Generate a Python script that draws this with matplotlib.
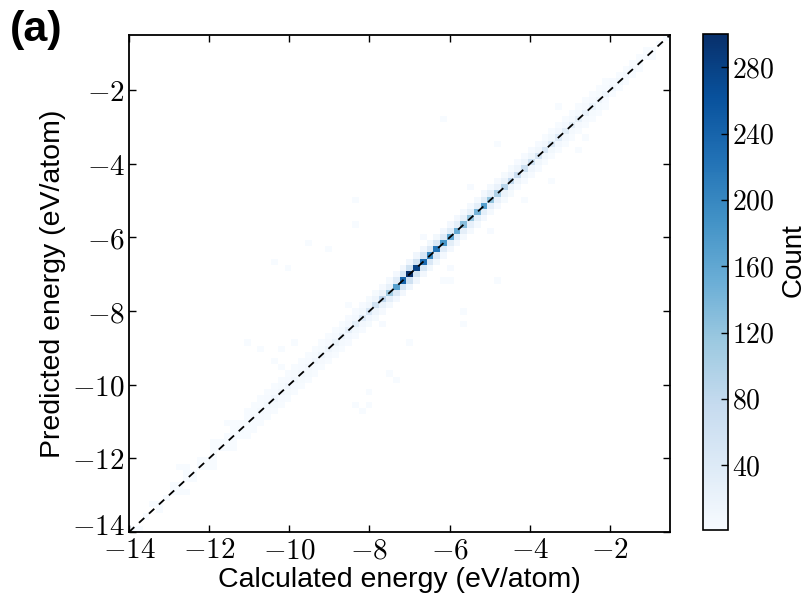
import numpy as np
import matplotlib
matplotlib.use('Agg')
import matplotlib.pyplot as plt
import matplotlib.transforms as mtransforms
from matplotlib.ticker import FixedLocator, FuncFormatter

plt.rcParams['mathtext.fontset'] = 'cm'
plt.rcParams['font.family'] = ['Liberation Sans', 'DejaVu Sans']

# histogram grid (80 x 80 bins on the plotted range)
e_min, e_max, n_bins = -14.0, -0.5, 80

# counts on the diagonal bins, from -14 up to -0.5
diag_counts = [1, 0, 1, 0, 1, 1, 2, 1, 1, 2,
               2, 1, 2, 3, 2, 3, 4, 4, 5, 6,
               9, 12, 10, 12, 11, 9, 10, 12, 14, 16,
               18, 22, 26, 30, 36, 45, 60, 80, 110, 170,
               240, 300, 280, 230, 200, 220, 180, 160, 150, 130,
               120, 140, 170, 120, 100, 90, 80, 70, 65, 60,
               50, 45, 40, 36, 32, 28, 25, 22, 20, 16,
               14, 11, 9, 7, 6, 4, 3, 2, 1, 1]

# one bin above / below the diagonal
upper_counts = [0, 0, 0, 1, 0, 0, 1, 0, 1, 0,
                1, 0, 1, 1, 1, 1, 2, 1, 2, 2,
                3, 3, 4, 3, 4, 3, 3, 4, 4, 5,
                5, 6, 7, 8, 9, 11, 14, 18, 24, 35,
                48, 60, 58, 50, 42, 45, 38, 34, 30, 27,
                25, 28, 32, 25, 21, 19, 17, 15, 14, 13,
                11, 10, 9, 8, 7, 6, 6, 5, 5, 4,
                3, 3, 2, 2, 1, 1, 1, 0, 0, 0]
lower_counts = [0, 1, 0, 0, 1, 0, 0, 1, 0, 1,
                0, 1, 1, 0, 2, 1, 1, 2, 2, 3,
                3, 4, 3, 4, 3, 4, 4, 3, 5, 5,
                6, 6, 8, 9, 10, 12, 15, 20, 28, 40,
                52, 62, 55, 48, 45, 42, 36, 32, 31, 28,
                26, 27, 30, 26, 22, 18, 16, 16, 13, 12,
                11, 9, 9, 7, 7, 6, 5, 5, 4, 4,
                3, 2, 2, 1, 1, 1, 0, 1, 0, 0]
# two bins away, both sides
outer_counts = [0, 0, 0, 0, 0, 0, 0, 0, 1, 0,
                0, 0, 1, 0, 0, 1, 0, 1, 1, 1,
                1, 1, 2, 1, 2, 1, 1, 2, 1, 2,
                2, 2, 3, 3, 3, 4, 4, 5, 6, 8,
                10, 12, 12, 10, 9, 9, 8, 7, 7, 6,
                6, 6, 7, 6, 5, 4, 4, 3, 3, 3,
                3, 2, 2, 2, 2, 1, 1, 1, 1, 1,
                1, 0, 0, 0, 0, 0, 0, 0, 0, 0]

# scattered off-diagonal cells: calculated, predicted, count
out_calc = [-6.2, -5.9, -5.6, -5.6, -7.55, -7.3, -7.05, -4.85, -8.4, -8.0,
            -8.15, -8.0, -8.3, -9.5, -9.05, -10.05, -10.4, -8.4, -6.2, -4.8,
            -2.8, -2.55, -11.0, -10.7, -10.15, -9.9, -10.4, -10.15, -12.8, -11.6,
            -3.5, -4.2, -5.0, -6.0, -7.6, -3.2, -5.5, -6.6, -8.6]
out_pred = [-7.2, -7.2, -8.0, -8.3, -9.7, -9.8, -8.8, -7.1, -10.5, -10.5,
            -10.7, -10.2, -5.6, -6.1, -6.4, -6.85, -6.6, -4.95, -2.8, -3.4,
            -3.7, -3.3, -8.8, -9.0, -9.1, -8.8, -9.4, -9.6, -12.3, -11.0,
            -4.4, -5.0, -5.8, -6.9, -8.3, -2.4, -4.7, -5.9, -7.9]
out_count = [1, 1, 1, 1, 1, 1, 1, 1, 1, 2,
             1, 1, 1, 1, 1, 1, 1, 1, 1, 1,
             1, 1, 1, 1, 1, 1, 2, 2, 1, 1,
             2, 2, 3, 3, 3, 2, 3, 3, 2]

xticks = [-14, -12, -10, -8, -6, -4, -2]
yticks = [-14, -12, -10, -8, -6, -4, -2]
cbar_ticks = [40, 80, 120, 160, 200, 240, 280]

# build the count table
edges = np.linspace(e_min, e_max, n_bins + 1)
counts = np.zeros((n_bins, n_bins))  # [pred bin, calc bin]
for i in range(n_bins):
    counts[i, i] += diag_counts[i]
    if i + 1 < n_bins:
        counts[i + 1, i] += upper_counts[i]
    if i - 1 >= 0:
        counts[i - 1, i] += lower_counts[i]
    if i + 2 < n_bins:
        counts[i + 2, i] += outer_counts[i]
    if i - 2 >= 0:
        counts[i - 2, i] += outer_counts[i]
cx = np.clip(np.digitize(out_calc, edges) - 1, 0, n_bins - 1)
cy = np.clip(np.digitize(out_pred, edges) - 1, 0, n_bins - 1)
for a, b, c in zip(cx, cy, out_count):
    counts[b, a] += c
counts = np.ma.masked_less(counts, 1)

fig = plt.figure(figsize=(8.05, 5.96), dpi=100)
ax = fig.add_axes([129 / 805, 64 / 596, 541 / 805, 497 / 596])
cax = fig.add_axes([703 / 805, 66 / 596, 25 / 805, 496 / 596])

mesh = ax.pcolormesh(edges, edges, counts, cmap='Blues', vmin=1, vmax=300)
ax.plot([e_min, e_max], [e_min, e_max], color='k', lw=1.3, dashes=(4, 3.5))
ax.set_xlim(e_min, e_max)
ax.set_ylim(e_min, e_max)

tick_fmt = FuncFormatter(lambda v, p: r'$%d$' % v)
ax.xaxis.set_major_locator(FixedLocator(xticks))
ax.yaxis.set_major_locator(FixedLocator(yticks))
ax.xaxis.set_major_formatter(tick_fmt)
ax.yaxis.set_major_formatter(tick_fmt)
ax.tick_params(direction='in', top=True, right=True, length=5, width=1,
               labelsize=21, pad=3)
for s in ax.spines.values():
    s.set_linewidth(1.3)

# lift the lowest y label a little, like the original
lbl = ax.yaxis.get_major_ticks()[0].label1
lbl.set_transform(lbl.get_transform() +
                  mtransforms.ScaledTranslation(0, 6 / 72, fig.dpi_scale_trans))

ax.set_xlabel('Calculated energy (eV/atom)', fontsize=20.5, labelpad=2)
ax.set_ylabel('Predicted energy (eV/atom)', fontsize=20.5, labelpad=4)

cbar = fig.colorbar(mesh, cax=cax)
cbar.set_ticks(cbar_ticks)
cbar.ax.yaxis.set_major_formatter(tick_fmt)
cbar.ax.tick_params(direction='in', length=5, width=1, labelsize=20, pad=3)
cbar.outline.set_linewidth(1.2)
cbar.set_label('Count', fontsize=20)
cbar.ax.yaxis.set_label_coords(3.1, 0.545)

fig.text(10 / 805, 1 - 10 / 596, '(a)', fontsize=31, fontweight='bold',
         ha='left', va='top')

fig.savefig('out.png', dpi=100)
